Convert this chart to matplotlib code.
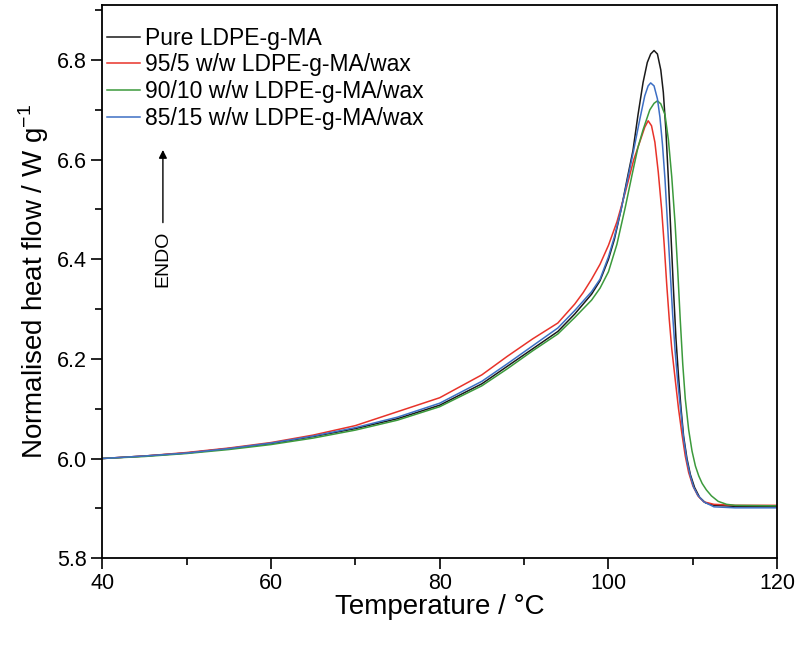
import matplotlib
matplotlib.use("Agg")
import matplotlib.pyplot as plt
from matplotlib.ticker import MultipleLocator

plt.rcParams['font.family'] = ['Liberation Sans', 'DejaVu Sans']

# DSC heating traces
t_pure = [40, 45, 50, 55, 60, 65, 70, 75, 80, 85, 88, 91, 94, 96, 98, 99, 100, 100.7, 101.5, 102.2,
          102.9, 103.5, 104.1, 104.6, 105.0, 105.4, 105.8, 106.2, 106.5, 106.8, 107.1, 107.4, 107.7,
          108.0, 108.3, 108.6, 108.9, 109.3, 109.7, 110.2, 110.8, 111.5, 112.5, 115, 120]
q_pure = [6.000, 6.005, 6.011, 6.020, 6.030, 6.044, 6.060, 6.080, 6.107, 6.150, 6.185, 6.220, 6.255,
          6.290, 6.330, 6.357, 6.400, 6.440, 6.500, 6.560, 6.618, 6.690, 6.755, 6.795, 6.812, 6.819,
          6.812, 6.780, 6.735, 6.660, 6.560, 6.450, 6.340, 6.240, 6.165, 6.100, 6.045, 6.000, 5.968,
          5.942, 5.922, 5.911, 5.906, 5.904, 5.903]

t_95 = [40, 45, 50, 55, 60, 65, 70, 75, 80, 85, 88, 91, 94, 96, 97, 98, 99, 100, 101, 102, 103,
        103.8, 104.3, 104.7, 105.1, 105.5, 105.9, 106.3, 106.6, 106.9, 107.2, 107.5, 107.9, 108.3,
        108.7, 109.1, 109.5, 110, 110.6, 111.3, 112.5, 115, 120]
q_95 = [6.000, 6.005, 6.012, 6.021, 6.032, 6.047, 6.066, 6.094, 6.122, 6.168, 6.205, 6.240, 6.272,
        6.310, 6.333, 6.360, 6.390, 6.428, 6.475, 6.535, 6.600, 6.640, 6.665, 6.678, 6.668, 6.635,
        6.575, 6.500, 6.430, 6.350, 6.280, 6.220, 6.160, 6.100, 6.050, 6.005, 5.972, 5.945, 5.925,
        5.913, 5.908, 5.906, 5.906]

t_90 = [40, 45, 50, 55, 60, 65, 70, 75, 80, 85, 88, 91, 94, 96, 98, 99, 100, 101, 102, 102.8,
        103.5, 104.1, 104.9, 105.4, 105.8, 106.2, 106.7, 107.1, 107.5, 107.9, 108.2, 108.5, 108.8,
        109.1, 109.5, 109.9, 110.3, 110.7, 111.1, 111.6, 112.2, 113, 114, 115, 120]
q_90 = [6.000, 6.004, 6.010, 6.018, 6.028, 6.041, 6.057, 6.077, 6.104, 6.146, 6.180, 6.216, 6.250,
        6.283, 6.318, 6.342, 6.375, 6.430, 6.505, 6.570, 6.625, 6.660, 6.700, 6.713, 6.718, 6.712,
        6.690, 6.640, 6.565, 6.470, 6.380, 6.280, 6.190, 6.120, 6.058, 6.015, 5.985, 5.965, 5.950,
        5.937, 5.925, 5.914, 5.908, 5.906, 5.905]

t_85 = [40, 45, 50, 55, 60, 65, 70, 75, 80, 85, 88, 91, 94, 96, 98, 99, 100, 100.7, 101.5, 102.2,
        103, 103.7, 104.3, 104.7, 105, 105.4, 105.8, 106.1, 106.4, 106.7, 107.0, 107.3, 107.6,
        107.9, 108.2, 108.6, 108.9, 109.3, 109.7, 110.1, 110.6, 111.3, 112.5, 115, 120]
q_85 = [6.000, 6.005, 6.011, 6.020, 6.031, 6.045, 6.062, 6.083, 6.111, 6.155, 6.190, 6.226, 6.262,
        6.297, 6.335, 6.360, 6.405, 6.445, 6.500, 6.555, 6.620, 6.680, 6.728, 6.748, 6.754, 6.748,
        6.722, 6.685, 6.630, 6.560, 6.470, 6.380, 6.290, 6.215, 6.155, 6.090, 6.040, 5.995, 5.965,
        5.942, 5.926, 5.913, 5.903, 5.901, 5.901]

labels = ["Pure LDPE-g-MA", "95/5 w/w LDPE-g-MA/wax",
          "90/10 w/w LDPE-g-MA/wax", "85/15 w/w LDPE-g-MA/wax"]
colors = ["#1a1a1a", "#e8332a", "#3c9a3c", "#3d6fc4"]

fig = plt.figure(figsize=(7.98, 6.49), dpi=100)
ax = fig.add_axes([0.128, 0.140, 0.846, 0.852])

series = [(t_pure, q_pure), (t_95, q_95), (t_90, q_90), (t_85, q_85)]
for (t, q), lab, c in zip(series, labels, colors):
    ax.plot(t, q, color=c, lw=1.1, label=lab)

ax.set_xlim(40, 120)
ax.set_ylim(5.8, 6.91)
ax.xaxis.set_major_locator(MultipleLocator(20))
ax.xaxis.set_minor_locator(MultipleLocator(10))
ax.yaxis.set_major_locator(MultipleLocator(0.2))
ax.yaxis.set_minor_locator(MultipleLocator(0.1))
ax.yaxis.set_major_formatter(plt.FormatStrFormatter('%.1f'))
ax.tick_params(which='both', direction='out', top=False, right=False, width=1.2)
ax.tick_params(which='major', length=8, labelsize=15.5, pad=3)
ax.tick_params(which='minor', length=5)
for s in ax.spines.values():
    s.set_linewidth(1.3)

ax.set_xlabel("Temperature / \u00b0C", fontsize=20, labelpad=0)
ax.set_ylabel("Normalised heat flow / W g$^{\\mathregular{-1}}$", fontsize=20, labelpad=4)

ax.annotate("", xy=(47.2, 6.625), xytext=(47.2, 6.468),
            arrowprops=dict(arrowstyle='-|>', color='k', lw=1.0, mutation_scale=12))
ax.text(47.2, 6.40, "ENDO", rotation=90, ha='center', va='center', fontsize=14)

ax.legend(loc='upper left', bbox_to_anchor=(-0.017, 0.99), frameon=False, fontsize=16.5,
          handlelength=1.45, handletextpad=0.2, labelspacing=0.16, borderaxespad=0.3)

fig.savefig("out.png", dpi=100)
